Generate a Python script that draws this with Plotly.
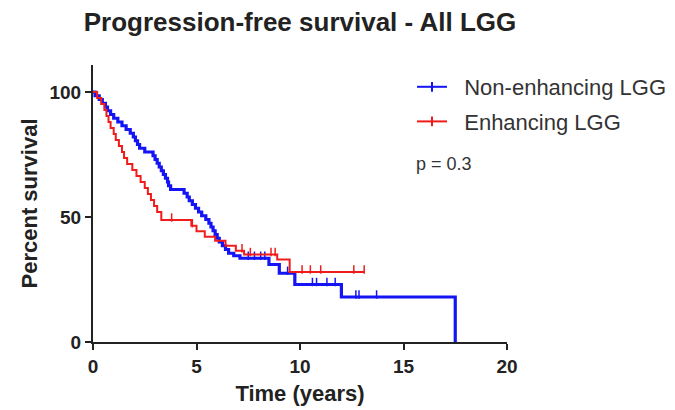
import plotly.graph_objects as go

# ---- data (Kaplan-Meier steps) ----
blue_t = [0, 0.1, 0.3, 0.45, 0.6, 0.7, 0.85, 1.0, 1.2, 1.4, 1.6, 1.8, 1.95, 2.05, 2.15, 2.25,
          2.5, 2.9, 3.0, 3.1, 3.2, 3.3, 3.4, 3.5, 3.6, 3.65, 3.75, 4.4, 4.55, 4.65, 4.8, 4.95,
          5.1, 5.25, 5.45, 5.6, 5.7, 5.8, 5.9, 6.0, 6.1, 6.25, 6.4, 6.55, 6.8, 7.1, 8.5, 9.0,
          9.75, 12.0, 17.5]
blue_s = [100, 98.5, 97, 95.5, 94, 92.5, 91, 89.5, 88, 86.5, 85, 83.5, 82, 80.5, 79, 77.5,
          76, 74.5, 73, 71.5, 70, 68.5, 67, 65.5, 64, 62.5, 61, 59.5, 58, 56.5, 55, 53.5,
          52, 50.5, 49, 47.5, 46, 44.5, 43, 41.5, 40, 38.5, 37, 35.5, 34.5, 33.5, 31, 27.5,
          23, 18, 0]
blue_censor = [7.5, 7.8, 8.1, 8.3, 9.4, 10.6, 10.8, 11.3, 11.7, 12.7, 12.85, 13.7]

red_t = [0, 0.2, 0.4, 0.55, 0.65, 0.75, 0.85, 1.0, 1.1, 1.25, 1.4, 1.5, 1.65, 1.9, 2.1, 2.3,
         2.5, 2.65, 2.8, 2.95, 3.1, 3.3, 4.75, 5.0, 5.4, 5.9, 6.4, 6.9, 7.3, 8.9, 9.5, 13.1]
red_s = [100, 97.6, 95.2, 92.8, 90.4, 88, 85.6, 83.2, 80.8, 78.4, 76, 73.6, 71.2, 68.8, 66.4, 64,
         61.6, 59.2, 56.8, 54.4, 52, 48.8, 46.5, 44.3, 42.1, 40.5, 38.5, 36.5, 35, 33, 28, 28]
red_censor = [3.8, 4.8, 7.2, 7.6, 8.6, 8.8, 10.1, 10.5, 11.0, 12.6, 13.1]

x_ticks = [0, 5, 10, 15, 20]
y_ticks = [0, 50, 100]

names = ["Non-enhancing LGG", "Enhancing LGG"]
colors = ["#1414f5", "#f01c1c"]
widths = [3.2, 2]


def surv_at(ts, ss, t):
    val = ss[0]
    for ti, si in zip(ts, ss):
        if ti <= t:
            val = si
    return val


fig = go.Figure()
series = [(blue_t, blue_s, blue_censor), (red_t, red_s, red_censor)]
for (ts, ss, cens), name, col, w in zip(series, names, colors, widths):
    fig.add_trace(go.Scatter(x=ts, y=ss, mode="lines", line=dict(color=col, width=w, shape="hv"),
                             showlegend=False, hoverinfo="skip", cliponaxis=False))
    fig.add_trace(go.Scatter(x=cens, y=[surv_at(ts, ss, c) + 1 for c in cens], mode="markers",
                             marker=dict(symbol="line-ns", size=6, line=dict(color=col, width=1.5)),
                             showlegend=False, hoverinfo="skip", cliponaxis=False))
    fig.add_trace(go.Scatter(x=[None], y=[None], mode="lines+markers",
                             name="\u00a0\u00a0" + name,
                             line=dict(color=col, width=2),
                             marker=dict(symbol="line-ns", size=7, line=dict(color=col, width=2)),
                             legendgroup=name))

font_family = "Arial, 'Liberation Sans', sans-serif"
fig.update_layout(
    width=675, height=410,
    margin=dict(l=93, r=168, t=65, b=68, autoexpand=False),
    paper_bgcolor="white", plot_bgcolor="white",
    font=dict(family=font_family, color="#222"),
    title=dict(text="<b>Progression-free survival - All LGG</b>", x=300 / 675,
               xref="container", xanchor="center", y=1 - 22 / 410, yanchor="middle",
               font=dict(size=26, color="#222")),
    showlegend=True,
    legend=dict(x=412 / 675, y=1 - 66 / 410, xref="container", yref="container",
                xanchor="left", yanchor="top", font=dict(size=22, color="#333"),
                tracegroupgap=3, bgcolor="rgba(0,0,0,0)", itemwidth=30),
    annotations=[dict(text="p = 0.3", x=0, y=0, xref="paper", yref="paper",
                      xanchor="left", yanchor="middle", showarrow=False,
                      font=dict(size=18, color="#333"))],
)
# place the p-value label (pixel position converted to plot-area fractions)
ann_x_px, ann_y_px = 414, 164
fig.layout.annotations[0].x = (ann_x_px - 93) / (675 - 93 - 168)
fig.layout.annotations[0].y = (410 - 68 - ann_y_px) / (410 - 65 - 68)

fig.update_xaxes(range=[0, 20], tickvals=x_ticks, ticktext=[f"<b>{v}</b>" for v in x_ticks],
                 showgrid=False, zeroline=False, showline=True, linecolor="#222", linewidth=2,
                 ticks="outside", ticklen=6, tickwidth=2, tickcolor="#222",
                 tickfont=dict(size=19, color="#222"), automargin=False,
                 title=dict(text="<b>Time (years)</b>", font=dict(size=22, color="#222"), standoff=10))
fig.update_yaxes(range=[0, 110.8], tickvals=y_ticks, ticktext=[f"<b>{v}</b>" for v in y_ticks],
                 showgrid=False, zeroline=False, showline=True, linecolor="#222", linewidth=2,
                 ticks="outside", ticklen=6, tickwidth=2, tickcolor="#222",
                 tickfont=dict(size=19, color="#222"), automargin=False,
                 title=dict(text="<b>Percent survival</b>", font=dict(size=22, color="#222"), standoff=6))

fig.write_html("out.html")
